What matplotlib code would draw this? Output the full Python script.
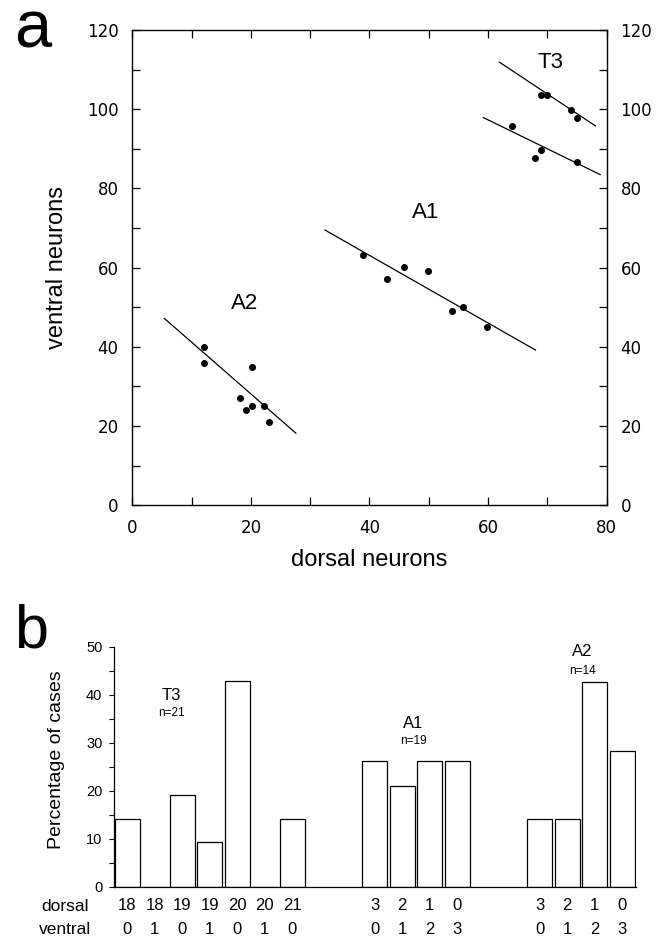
import matplotlib
matplotlib.use("Agg")
import matplotlib.pyplot as plt
import numpy as np
from matplotlib.ticker import MultipleLocator

plt.rcParams["font.family"] = ["Liberation Sans", "DejaVu Sans"]

# ---- panel a: dorsal vs ventral neuron counts ----
t3_hi_dorsal = [68.9, 70.0, 74.0, 75.0]
t3_hi_ventral = [103.7, 103.7, 99.7, 97.8]
t3_lo_dorsal = [64.0, 68.0, 68.9, 75.0]
t3_lo_ventral = [95.7, 87.8, 89.8, 86.7]
a1_dorsal = [38.9, 42.9, 45.8, 49.8, 53.9, 55.8, 59.9]
a1_ventral = [63.2, 57.1, 60.1, 59.1, 49.0, 50.0, 45.1]
a2_dorsal = [12.1, 12.1, 20.2, 18.2, 19.2, 20.2, 22.2, 23.1]
a2_ventral = [40.0, 36.0, 35.0, 27.0, 24.0, 25.0, 25.0, 21.0]

# fitted lines, endpoints
t3_hi_fit = ([61.9, 78.1], [111.9, 95.8])
t3_lo_fit = ([59.2, 78.9], [97.9, 83.5])
a1_fit = ([32.5, 68.0], [69.5, 39.2])
a2_fit = ([5.4, 27.6], [47.2, 18.2])

seg_names_a = ["T3", "A1", "A2"]
seg_label_xy = [(70.6, 111.7), (49.5, 73.9), (19.0, 51.0)]

# ---- panel b: percentage of cases ----
t3_pct = [14.2, 0, 19.0, 9.4, 42.8, 0, 14.2]
t3_dorsal = ["18", "18", "19", "19", "20", "20", "21"]
t3_ventral = ["0", "1", "0", "1", "0", "1", "0"]
a1_pct = [26.1, 20.9, 26.1, 26.1]
a1_dorsal_lbl = ["3", "2", "1", "0"]
a1_ventral_lbl = ["0", "1", "2", "3"]
a2_pct = [14.1, 14.1, 42.7, 28.3]
a2_dorsal_lbl = ["3", "2", "1", "0"]
a2_ventral_lbl = ["0", "1", "2", "3"]
group_names = ["T3", "A1", "A2"]
group_n = ["n=21", "n=19", "n=14"]

fig = plt.figure(figsize=(6.63, 9.38), dpi=100, facecolor="white")

# ---------------- panel a ----------------
ax1 = fig.add_axes([0.1995, 0.4613, 0.7155, 0.5067])
ax1.set_xlim(0, 80)
ax1.set_ylim(0, 120)
for xs, ys in [(t3_hi_dorsal, t3_hi_ventral), (t3_lo_dorsal, t3_lo_ventral),
               (a1_dorsal, a1_ventral), (a2_dorsal, a2_ventral)]:
    ax1.plot(xs, ys, "o", color="black", markersize=4, zorder=3)
for fx, fy in [t3_hi_fit, t3_lo_fit, a1_fit, a2_fit]:
    ax1.plot(fx, fy, "-", color="black", lw=0.9)
for name, (lx, ly) in zip(seg_names_a, seg_label_xy):
    ax1.text(lx, ly, name, ha="center", va="center", fontsize=16)

ax1.xaxis.set_major_locator(MultipleLocator(20))
ax1.xaxis.set_minor_locator(MultipleLocator(10))
ax1.yaxis.set_major_locator(MultipleLocator(20))
ax1.yaxis.set_minor_locator(MultipleLocator(10))
ax1.tick_params(which="both", direction="in", top=True, right=True,
                length=6, width=0.9)
ax1.tick_params(axis="y", which="major", labelright=True, pad=10)
ax1.tick_params(axis="x", which="major", pad=10)
for lab in ax1.get_xticklabels() + ax1.get_yticklabels() + ax1.yaxis.get_ticklabels(which="major"):
    lab.set_fontfamily("DejaVu Sans")
    lab.set_fontsize(12)
for t in ax1.yaxis.get_major_ticks():
    t.label2.set_fontfamily("DejaVu Sans")
    t.label2.set_fontsize(12)
for sp in ax1.spines.values():
    sp.set_linewidth(1.0)
ax1.set_xlabel("dorsal neurons", fontsize=17)
ax1.set_ylabel("ventral neurons", fontsize=17)
ax1.xaxis.set_label_coords(0.5, -0.092)
ax1.yaxis.set_label_coords(-0.135, 0.5)

# ---------------- panel b ----------------
ax2 = fig.add_axes([0.1724, 0.0547, 0.7869, 0.2559])
groups = [(t3_pct, t3_dorsal, t3_ventral), (a1_pct, a1_dorsal_lbl, a1_ventral_lbl),
          (a2_pct, a2_dorsal_lbl, a2_ventral_lbl)]
starts = [0, 9, 15]
label_pos = [(1.6, 39.9, 36.1), (10.4, 33.9, 30.4), (16.55, 49.0, 45.0)]
for (pct, dl, vl), s, name, n, (gx, gy, ny) in zip(groups, starts, group_names, group_n, label_pos):
    pos = s + np.arange(len(pct))
    ax2.bar(pos, pct, width=0.9, facecolor="white", edgecolor="black", linewidth=0.9)
    for p, d, v in zip(pos, dl, vl):
        ax2.text(p, -0.080, d, transform=ax2.get_xaxis_transform(),
                 ha="center", va="center", fontsize=12)
        ax2.text(p, -0.180, v, transform=ax2.get_xaxis_transform(),
                 ha="center", va="center", fontsize=12)
    ax2.text(gx, gy, name, ha="center", va="center", fontsize=12)
    ax2.text(gx, ny, n, ha="center", va="center", fontsize=8.5)

ax2.set_xlim(-0.47, 18.5)
ax2.set_ylim(0, 50)
ax2.set_xticks([])
ax2.yaxis.set_major_locator(MultipleLocator(10))
ax2.yaxis.set_minor_locator(MultipleLocator(5))
ax2.tick_params(axis="y", which="both", direction="out", length=3.5, width=0.8,
                labelsize=10.5, pad=5)
ax2.spines["top"].set_visible(False)
ax2.spines["right"].set_visible(False)
ax2.spines["left"].set_linewidth(0.9)
ax2.spines["bottom"].set_linewidth(0.9)
ax2.set_ylabel("Percentage of cases", fontsize=14)
ax2.yaxis.set_label_coords(-0.095, 0.53)

fig.text(65 / 663, 1 - 906 / 938, "dorsal", ha="center", va="center", fontsize=12.5)
fig.text(65 / 663, 1 - 929 / 938, "ventral", ha="center", va="center", fontsize=12.5)

fig.text(14 / 663, 1 - 47 / 938, "a", ha="left", va="baseline", fontsize=48)
fig.text(14 / 663, 1 - 647 / 938, "b", ha="left", va="baseline", fontsize=44)

fig.savefig("out.png", dpi=100, facecolor="white")
